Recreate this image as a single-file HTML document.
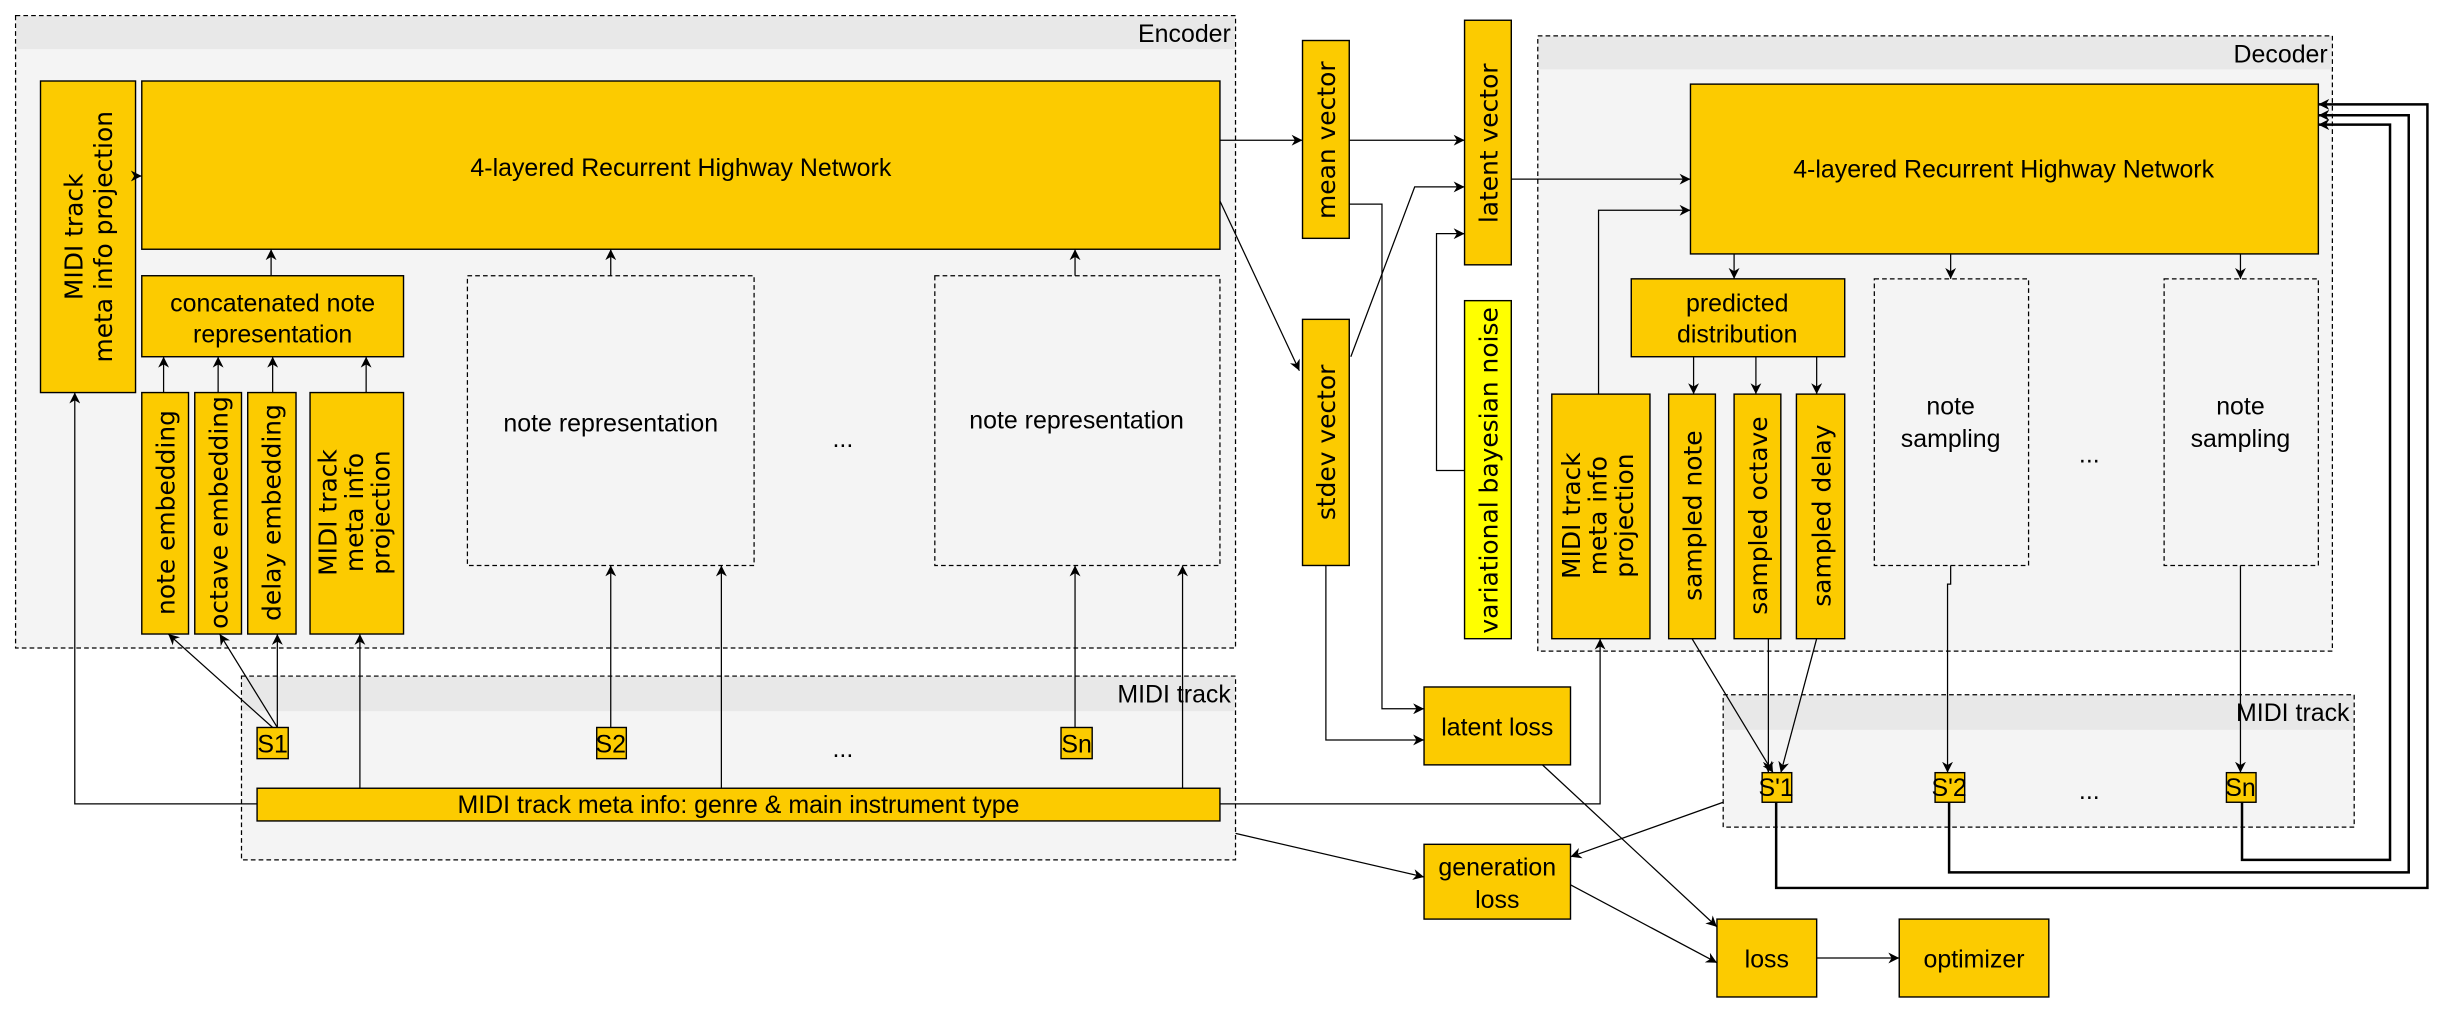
<!DOCTYPE html>
<html><head><meta charset="utf-8"><style>
html,body{margin:0;padding:0;background:#fff;}
svg{display:block;}
text{font-family:"Liberation Sans","DejaVu Sans",sans-serif;fill:#000;}
text.v, .v text{font-family:"DejaVu Sans",sans-serif;font-size:16px;}
.h{font-size:16px;}
</style></head><body>
<svg width="2443" height="1011" viewBox="0 0 1568 649" preserveAspectRatio="none" xmlns="http://www.w3.org/2000/svg">
<defs>
<marker id="a" viewBox="0 0 10 10" refX="10" refY="5" markerWidth="7" markerHeight="7" orient="auto" markerUnits="userSpaceOnUse">
<path d="M0,0 L10,5 L0,10 L3,5 z" fill="#000"/></marker>
</defs>
<g fill="none" stroke="#000" stroke-width="0.8">
<rect x="10" y="10" width="783" height="406" fill="#f4f4f4" stroke-dasharray="3,2"/>
<rect x="10.5" y="10.5" width="782" height="21" fill="#e8e8e8" stroke="none"/>
<rect x="155" y="434" width="638" height="118" fill="#f4f4f4" stroke-dasharray="3,2"/>
<rect x="155.5" y="434.5" width="637" height="22" fill="#e8e8e8" stroke="none"/>
<rect x="987" y="23" width="510" height="395" fill="#f4f4f4" stroke-dasharray="3,2"/>
<rect x="987.5" y="23.5" width="509" height="21" fill="#e8e8e8" stroke="none"/>
<rect x="1106" y="446" width="405" height="85" fill="#f4f4f4" stroke-dasharray="3,2"/>
<rect x="1106.5" y="446.5" width="404" height="22" fill="#e8e8e8" stroke="none"/>
</g>
<g fill="#fccb00" stroke="#000" stroke-width="0.9">
<rect x="91" y="52" width="692" height="108"/>
<rect x="26" y="52" width="61" height="200"/>
<rect x="91" y="177" width="168" height="52"/>
<rect x="91" y="252" width="30" height="155"/>
<rect x="125" y="252" width="30" height="155"/>
<rect x="159" y="252" width="31" height="155"/>
<rect x="199" y="252" width="60" height="155"/>
<rect x="165" y="467" width="20" height="20"/>
<rect x="383" y="467" width="19" height="20"/>
<rect x="681" y="467" width="20" height="20"/>
<rect x="165" y="506" width="618" height="21"/>
<rect x="836" y="26" width="30" height="127"/>
<rect x="836" y="205" width="30" height="158"/>
<rect x="940" y="13" width="30" height="157"/>
<rect x="940" y="193" width="30" height="217" fill="#ffff00"/>
<rect x="914" y="441" width="94" height="50"/>
<rect x="914" y="542" width="94" height="48"/>
<rect x="1102" y="590" width="64" height="50"/>
<rect x="1219" y="590" width="96" height="50"/>
<rect x="1085" y="54" width="403" height="109"/>
<rect x="1047" y="179" width="137" height="50"/>
<rect x="996" y="253" width="63" height="157"/>
<rect x="1071" y="253" width="30" height="157"/>
<rect x="1113" y="253" width="30" height="157"/>
<rect x="1153" y="253" width="31" height="157"/>
<rect x="1131" y="496" width="19" height="19"/>
<rect x="1242" y="496" width="19" height="19"/>
<rect x="1429" y="496" width="19" height="19"/>
</g>
<g fill="#f4f4f4" stroke="#000" stroke-width="0.8" stroke-dasharray="3,2">
<rect x="300" y="177" width="184" height="186"/>
<rect x="600" y="177" width="183" height="186"/>
<rect x="1203" y="179" width="99" height="184"/>
<rect x="1389" y="179" width="99" height="184"/>
</g>
<g fill="none" stroke="#000" stroke-width="0.8" marker-end="url(#a)">
<path d="M87,113 H91"/>
<path d="M174,177 V160"/>
<path d="M392,177 V160"/>
<path d="M690,177 V160"/>
<path d="M105,252 V229"/>
<path d="M140,252 V229"/>
<path d="M175,252 V229"/>
<path d="M235,252 V229"/>
<path d="M175,467 L108,407"/>
<path d="M178,467 L141,407"/>
<path d="M178,467 V407"/>
<path d="M231,506 V407"/>
<path d="M165,516 H48 V252"/>
<path d="M392,467 V363"/>
<path d="M463,506 V363"/>
<path d="M690,467 V363"/>
<path d="M759,506 V363"/>
<path d="M783,90 H836"/>
<path d="M783,129 L834,238"/>
<path d="M866,90 H940"/>
<path d="M867,229 L908,120 H940"/>
<path d="M940,302 H922 V150 H940"/>
<path d="M866,131 H887 V455 H914"/>
<path d="M851,363 V475 H914"/>
<path d="M970,115 H1085"/>
<path d="M1026,253 V135 H1085"/>
<path d="M783,516 H1027 V410"/>
<path d="M1113,163 V179"/>
<path d="M1252,163 V179"/>
<path d="M1438,163 V179"/>
<path d="M1087,229 V253"/>
<path d="M1127,229 V253"/>
<path d="M1166,229 V253"/>
<path d="M1086,410 L1138,496"/>
<path d="M1135,410 V496"/>
<path d="M1166,410 L1143,496"/>
<path d="M1252,363 V375 H1250 V496"/>
<path d="M1438,363 V496"/>
<path d="M793,535 L914,563"/>
<path d="M1106,515 L1008,550"/>
<path d="M990,491 L1102,595"/>
<path d="M1008,568 L1102,618"/>
<path d="M1166,615 H1219"/>
</g>
<g fill="none" stroke="#000" stroke-width="1.6" marker-end="url(#a)">
<path d="M1140,515 V570 H1558 V67 H1488"/>
<path d="M1251,515 V560 H1546 V74 H1488"/>
<path d="M1439,515 V552 H1534 V80 H1488"/>
</g>
<g class="h">
<text x="790" y="27" text-anchor="end">Encoder</text>
<text x="1494" y="40" text-anchor="end">Decoder</text>
<text x="790" y="451" text-anchor="end">MIDI track</text>
<text x="1508" y="463" text-anchor="end">MIDI track</text>
<text x="437" y="113" text-anchor="middle">4-layered Recurrent Highway Network</text>
<text x="1286" y="114" text-anchor="middle">4-layered Recurrent Highway Network</text>
<text x="175" y="200" text-anchor="middle">concatenated note</text>
<text x="175" y="220" text-anchor="middle">representation</text>
<text x="392" y="277" text-anchor="middle">note representation</text>
<text x="691" y="275" text-anchor="middle">note representation</text>
<text x="541" y="287" text-anchor="middle">...</text>
<text x="1115" y="200" text-anchor="middle">predicted</text>
<text x="1115" y="220" text-anchor="middle">distribution</text>
<text x="1252" y="266" text-anchor="middle">note</text>
<text x="1252" y="287" text-anchor="middle">sampling</text>
<text x="1438" y="266" text-anchor="middle">note</text>
<text x="1438" y="287" text-anchor="middle">sampling</text>
<text x="1341" y="297" text-anchor="middle">...</text>
<text x="175" y="483" text-anchor="middle">S1</text>
<text x="392" y="483" text-anchor="middle">S2</text>
<text x="691" y="483" text-anchor="middle">Sn</text>
<text x="541" y="486" text-anchor="middle">...</text>
<text x="474" y="522" text-anchor="middle">MIDI track meta info: genre &amp; main instrument type</text>
<text x="961" y="472" text-anchor="middle">latent loss</text>
<text x="961" y="562" text-anchor="middle">generation</text>
<text x="961" y="583" text-anchor="middle">loss</text>
<text x="1134" y="621" text-anchor="middle">loss</text>
<text x="1267" y="621" text-anchor="middle">optimizer</text>
<text x="1140" y="511" text-anchor="middle">S'1</text>
<text x="1251" y="511" text-anchor="middle">S'2</text>
<text x="1438" y="511" text-anchor="middle">Sn</text>
<text x="1341" y="513" text-anchor="middle">...</text>
</g>
<g class="v">
<text transform="translate(53,152) rotate(-90)" text-anchor="middle">MIDI track</text>
<text transform="translate(72,152) rotate(-90)" text-anchor="middle">meta info projection</text>
<text transform="translate(112,329) rotate(-90)" text-anchor="middle">note embedding</text>
<text transform="translate(146,329) rotate(-90)" text-anchor="middle">octave embedding</text>
<text transform="translate(180,329) rotate(-90)" text-anchor="middle">delay embedding</text>
<text transform="translate(216,329) rotate(-90)" text-anchor="middle">MIDI track</text>
<text transform="translate(233,329) rotate(-90)" text-anchor="middle">meta info</text>
<text transform="translate(250,329) rotate(-90)" text-anchor="middle">projection</text>
<text transform="translate(857,90) rotate(-90)" text-anchor="middle">mean vector</text>
<text transform="translate(857,284) rotate(-90)" text-anchor="middle">stdev vector</text>
<text transform="translate(961,92) rotate(-90)" text-anchor="middle">latent vector</text>
<text transform="translate(961,302) rotate(-90)" text-anchor="middle">variational bayesian noise</text>
<text transform="translate(1014,331) rotate(-90)" text-anchor="middle">MIDI track</text>
<text transform="translate(1031,331) rotate(-90)" text-anchor="middle">meta info</text>
<text transform="translate(1048,331) rotate(-90)" text-anchor="middle">projection</text>
<text transform="translate(1092,331) rotate(-90)" text-anchor="middle">sampled note</text>
<text transform="translate(1134,331) rotate(-90)" text-anchor="middle">sampled octave</text>
<text transform="translate(1175,331) rotate(-90)" text-anchor="middle">sampled delay</text>
</g>
</svg>
</body></html>
